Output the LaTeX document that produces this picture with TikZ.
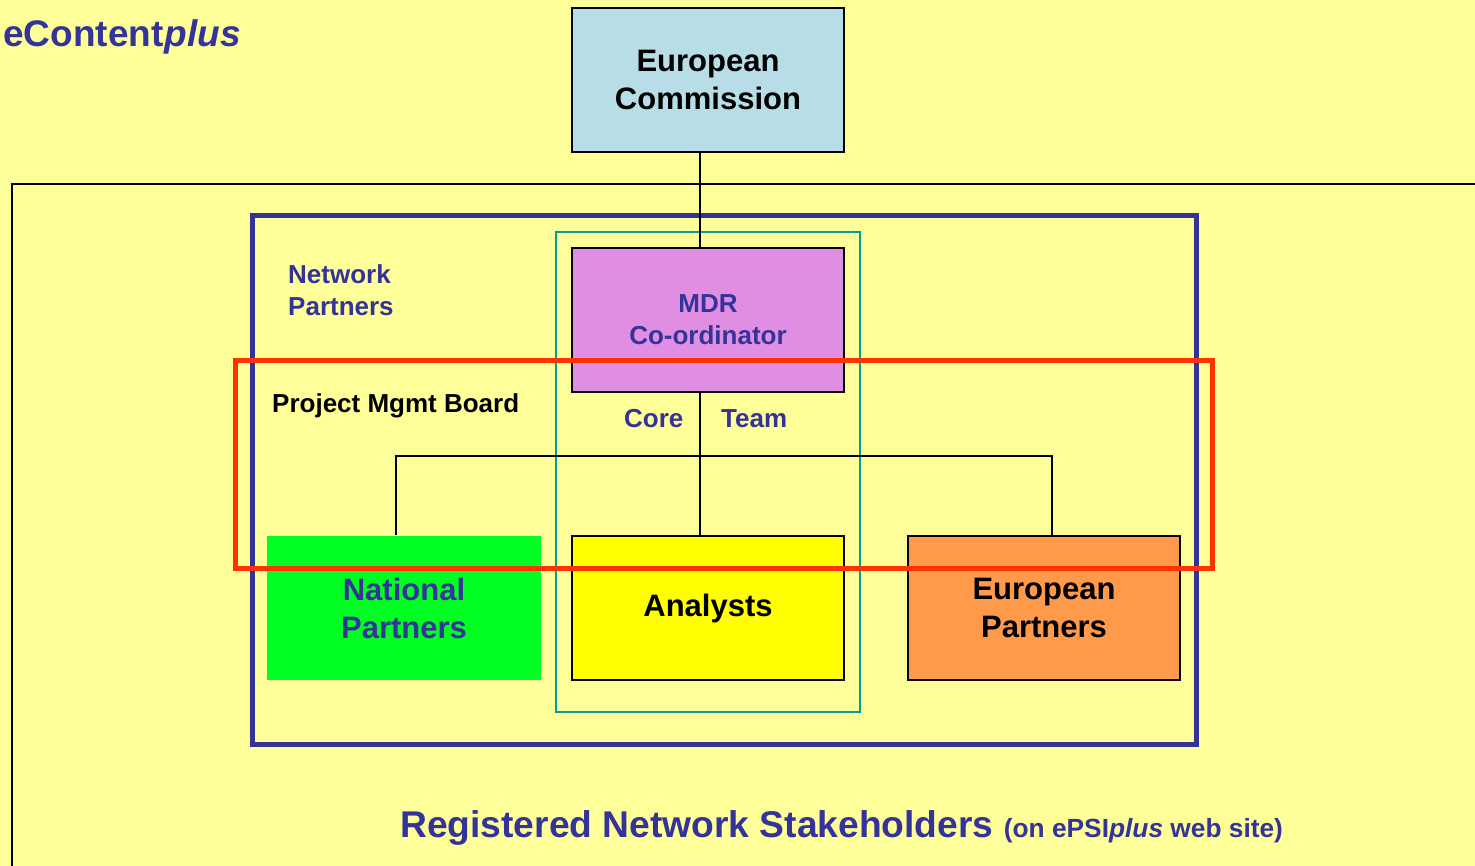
\documentclass[tikz,border=0pt]{standalone}
\usepackage{fontspec}
\setmainfont{Liberation Sans}
\definecolor{bgyellow}{HTML}{FFFF99}
\definecolor{navy}{HTML}{333399}
\definecolor{ecblue}{HTML}{B7DEE6}
\definecolor{mdrpink}{HTML}{E08EE2}
\definecolor{natgreen}{HTML}{00FF22}
\definecolor{anyellow}{HTML}{FFFF00}
\definecolor{euorange}{HTML}{FF9A4A}
\definecolor{redframe}{HTML}{FF3300}
\definecolor{tealframe}{HTML}{009E9E}
\newcommand{\fsz}[2]{\fontsize{#1}{#2}\selectfont}
\tikzset{
  orgbox/.style={draw=black, line width=2pt, minimum width=272pt, minimum height=144pt, inner sep=0pt, align=center, font=\bfseries\fsz{31}{38}},
  lbl/.style={inner sep=0pt, font=\bfseries\fsz{26}{32}, text=navy},
  conn/.style={draw=black, line width=2pt},
}
\begin{document}
\begin{tikzpicture}[x=1pt,y=-1pt]
\useasboundingbox (0,0) rectangle (1475,866);
\fill[bgyellow] (0,0) rectangle (1475,866);
% outer frame
\draw[black, line width=2pt] (1480,184) -- (12,184) -- (12,875);
% network partners frame
\draw[navy, line width=5pt] (252,216) rectangle (1196,744);
% core team frame
\draw[tealframe, line width=2pt] (556,232) rectangle (860,712);
% boxes
\node[orgbox, fill=ecblue] (ec) at (708,80) {European\\Commission};
\node[orgbox, fill=mdrpink, text=navy, font=\bfseries\fsz{26}{32}] (mdr) at (708,320) {MDR\\Co-ordinator};
\node[orgbox, draw=none, fill=natgreen, text=navy, minimum width=274pt] (np) at (404,608) {\raisebox{-1.5pt}{National}\\\raisebox{-1.5pt}{Partners}};
\node[orgbox, fill=anyellow] (an) at (708,608) {\raisebox{-2.5pt}{Analysts}};
\node[orgbox, fill=euorange] (ep) at (1044,608) {\raisebox{-1.5pt}{European}\\\raisebox{-1.5pt}{Partners}};
% connectors
\coordinate (sp) at (700,456);
\coordinate (tl) at (396,456);
\coordinate (tr) at (1052,456);
\draw[conn] (sp |- ec.south) -- (sp |- mdr.north);
\draw[conn] (sp |- mdr.south) -- (sp |- an.north);
\draw[conn] (tl |- np.north) -- (tl) -- (tr) -- (tr |- ep.north);
% labels
\node[lbl, anchor=base west] (nw1) at (288,284) {Network};
\node[lbl, anchor=base west] (nw2) at (288,316) {Partners};
\node[lbl, text=black, anchor=base west] (pmb) at (272,412) {Project Mgmt Board};
\node[lbl, anchor=base west] (core) at (624,428) {Core};
\node[lbl, anchor=base west] (team) at (721,428) {Team};
\node[lbl, font=\bfseries\fsz{37}{44}, anchor=base west] (ecp) at (3,47) {eContent\kern1pt\textit{plus}};
\node[lbl, font=\bfseries\fsz{37.2}{44}, anchor=base west] (rns) at (400,837) {Registered Network Stakeholders {\fsz{26.3}{32}(on ePSI\textit{plus} web site)}};
% red frame
\draw[redframe, line width=5pt] (235,361) rectangle (1212,568);
\end{tikzpicture}
\end{document}
